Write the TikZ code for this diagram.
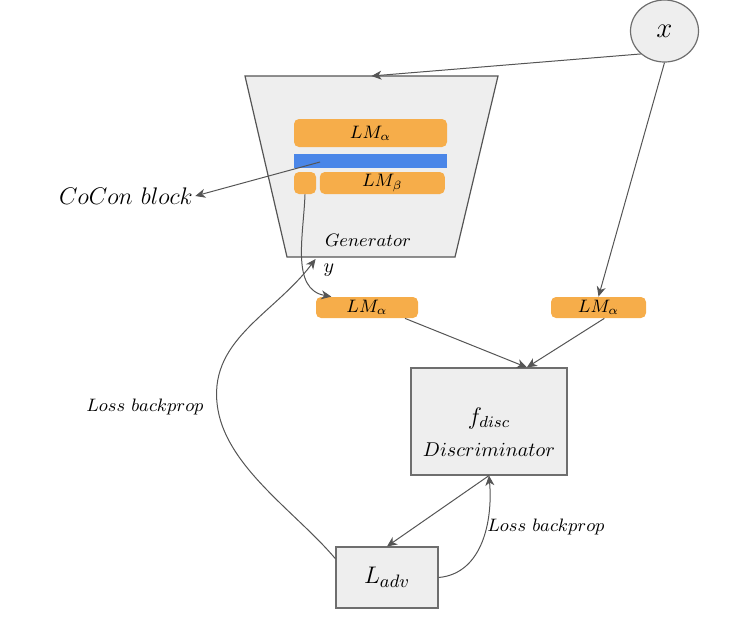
\documentclass[tikz,border=0pt]{standalone}
\usepackage{amsmath}
\usetikzlibrary{positioning,arrows.meta,shapes.geometric,calc}
\definecolor{lmorange}{HTML}{F6AD4A}
\definecolor{ccblue}{HTML}{4A86E8}
\definecolor{boxgray}{HTML}{EEEEEE}
\definecolor{linegray}{HTML}{555555}
\tikzstyle{gbox}=[rectangle, draw=linegray!85, fill=boxgray, line width=0.6pt, inner sep=2pt, text centered]
\tikzstyle{lmbar}=[rectangle, rounded corners=2.5pt, fill=lmorange, inner sep=0pt, text centered, font=\small]
\tikzstyle{pline}=[-, draw=linegray, line width=0.5pt]
\tikzstyle{parrow}=[pline, -{Stealth[length=5pt,width=4.5pt,inset=1.5pt]}]
\tikzstyle{lbl}=[inner sep=1pt]

\begin{document}
\begin{tikzpicture}[x=0.5pt, y=-0.5pt, node distance=0mm]
\useasboundingbox (0,0) rectangle (755,633);
\node (X) [ellipse, draw=linegray!85, fill=boxgray, line width=0.6pt, minimum width=34pt, minimum height=31pt, inner sep=0pt, font=\Large] at (664.5,31) {$x$};
\coordinate (GTL) at (245,76);
\coordinate (GTR) at (498,76);
\coordinate (GBR) at (455,257);
\coordinate (GBL) at (287,257);
\draw[draw=linegray, fill=boxgray, line width=0.6pt] (GTL) -- (GTR) -- (GBR) -- (GBL) -- cycle;
\coordinate (GTOP) at ($(GTL)!0.5!(GTR)$);
\coordinate (GBOT) at ($(GBL)!0.17!(GBR)+(0,2)$);
\node (GENTXT) [lbl, font=\fontsize{9.5}{11}\selectfont] at (368,240) {$Generator$};
\node (LMA) [lmbar, minimum width=76.5pt, minimum height=14pt] at (370.5,133) {$LM_{\alpha}$};
\node (CB) [rectangle, fill=ccblue, inner sep=0pt, minimum width=76.5pt, minimum height=7pt, below=3pt of LMA] {};
\node (SQ) [lmbar, minimum width=11pt, minimum height=11pt] at (305,183) {};
\node (LMB) [lmbar, minimum width=62.5pt, minimum height=11pt, right=1.5pt of SQ] {$LM_{\beta}$};
\node (COCON) [lbl, font=\fontsize{12.5}{15}\selectfont] at (126,196) {$CoCon\ block$};
\node (Y) [lbl] at (329,270) {$y$};
\node (LM1) [lmbar, minimum width=51pt, minimum height=10.5pt] at (367,307.5) {$LM_{\alpha}$};
\node (LM2) [lmbar, minimum width=47.5pt, minimum height=10.5pt] at (598.5,307.5) {$LM_{\alpha}$};
\node (DISC) [gbox, minimum width=78pt, minimum height=53.5pt] at (489,421.5) {};
\node (FDISC) [lbl, font=\large] at (489,418) {$f_{disc}$};
\node (DTXT) [lbl, font=\fontsize{10}{12}\selectfont] at (489,450) {$Discriminator$};
\node (LADV) [gbox, minimum width=51pt, minimum height=30.5pt, font=\fontsize{13}{15}\selectfont] at (387,577.5) {$L_{adv}$};
\node (LBP1) [lbl, font=\small] at (145,407) {$Loss\ backprop$};
\node (LBP2) [lbl, font=\small] at (546,527) {$Loss\ backprop$};
\coordinate (CBPT) at (320,162);
 \draw[parrow]  (X.224) -- (GTOP) ;
 \draw[parrow]  (X.south) -- (LM2.north) ;
 \draw[parrow]  (CBPT) -- (COCON.east) ;
 \draw[parrow]  (SQ.south) to[out=-92,in=170] (LM1.163) ;
 \draw[parrow]  (LM1.-16) -- (DISC.55) ;
 \draw[parrow]  (LM2.-62) -- (DISC.55) ;
 \draw[parrow]  (DISC.south) -- (LADV.north) ;
 \draw[parrow]  (LADV.east) to[out=5,in=-85] (DISC.south) ;
 \draw[parrow]  (LADV.160) to[out=130,in=-80,looseness=0.8] (218,410) to[out=100,in=233] (GBOT) ;
\end{tikzpicture}
\end{document}
